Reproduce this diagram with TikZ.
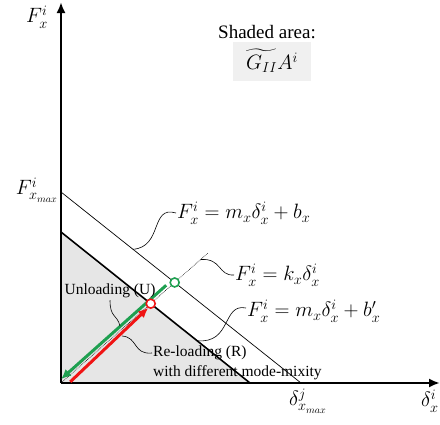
\documentclass[tikz,border=0pt]{standalone}
\usepackage{fontspec}
\setmainfont{Liberation Serif}
\usepackage{amsmath}
\usetikzlibrary{arrows.meta, calc}
\definecolor{cGreen}{RGB}{30,160,80}
\definecolor{cRed}{RGB}{240,20,20}
\definecolor{cShade}{RGB}{230,230,230}
\definecolor{cBox}{RGB}{240,240,240}
\tikzset{
    axis/.style     ={line width=2.2pt, -{Latex[length=11pt,width=9pt]}},
    envline/.style  ={line width=0.7pt},
    leader/.style   ={line width=0.6pt},
    eqlabel/.style  ={font=\fontsize{20}{22}\selectfont, inner sep=1pt},
    txtlabel/.style ={font=\fontsize{15.5}{20}\selectfont, inner sep=1pt, align=left},
    marker/.style   ={circle, draw, line width=1.6pt, fill=white, minimum size=9pt, inner sep=0pt},
    pathArrow/.style={line width=3pt, -{Latex[length=10pt,width=9pt]}},
}

\begin{document}
\begin{tikzpicture}[x=1pt, y=-1pt]
    \useasboundingbox (0,0) rectangle (440,424);
    % key points
    \coordinate (O) at (61,383);
    \coordinate (outA) at (61,192);
    \coordinate (outB) at (301,383);
    \coordinate (inA) at (61,232);
    \coordinate (inB) at (250,383);
    \coordinate (kEnd) at (208,253);

    % shaded area
    \fill[cShade] (inA) -- (inB) -- (O) -- cycle;
    \draw[line width=1.6pt] (inA) -- (inB);
    \draw[envline] (outA) -- (outB);
    \draw[leader, densely dotted] (O) -- (kEnd);

    % axes
    \draw[axis] (O) -- (61,2);
    \draw[axis] (O) -- (440,383);

    % axis labels
    \node[eqlabel] (fy) at (37,17) {$F_x^i$};
    \node[eqlabel, anchor=east] (fmax) at (59,190) {$F_{x_{max}}^i$};
    \node[eqlabel] (dmax) at (308,401) {$\delta_{x_{max}}^j$};
    \node[eqlabel, anchor=west] (dx) at (420,401) {$\delta_x^i$};

    % shaded area box
    \node[txtlabel, font=\fontsize{19}{22}\selectfont] (shd) at (267,32) {Shaded area:};
    \node[eqlabel, fill=cBox, minimum width=78pt, minimum height=39pt] (gbox) at (272,61) {$\widetilde{G_{II}}A^i$};

    % markers
    \coordinate (gpt) at (intersection of O--kEnd and outA--outB);
    \coordinate (rpt) at (intersection of O--kEnd and inA--inB);

    % unloading and reloading paths
    \draw[pathArrow, cGreen] ($(gpt)!8pt!(O)+(-2.5,-2.5)$) -- ($(O)!2pt!(gpt)+(-1.5,-2.5)$);
    \draw[pathArrow, cRed] ($(O)!7pt!(gpt)+(4,3.5)$) -- ($(rpt)!4pt!(O)+(0.5,1.5)$);
    \node[marker, draw=cGreen] (gmark) at (gpt) {};
    \node[marker, draw=cRed] (rmark) at (rpt) {};

    % equation labels
    \node[eqlabel, anchor=west] (lblB) at (176,213) {$F_x^i = m_x\delta_x^i + b_x$};
    \node[eqlabel, anchor=west] (lblK) at (234,275) {$F_x^i = k_x\delta_x^i$};
    \node[eqlabel, anchor=west] (lblBp) at (246,311) {$F_x^i = m_x\delta_x^i + b_x'$};
    \node[txtlabel] (lblU) at (110,291) {Unloading (U)};
    \node[txtlabel, anchor=north west] (lblR) at (152,345) {Re-loading (R)\\with different mode-mixity};

    % leaders
    \draw[leader] (lblB.west) .. controls (150,205) and (163,247) .. ($(outA)!0.3!(outB)$);
    \draw[leader] (lblK.west) .. controls (218,276) and (222,258) .. ($(O)!0.95!(kEnd)$);
    \draw[leader] ($(lblBp.west)+(0,-3)$) .. controls (222,303) and (232,344) .. ($(inA)!0.72!(inB)$);
    \draw[leader] ($(lblU.south)+(0,1)$) .. controls (110,318) and (117,314) .. (120,326);
    \draw[leader] ($(lblR.north west)+(0,8)$) .. controls (133,355) and (138,337) .. (122,336);
\end{tikzpicture}
\end{document}
